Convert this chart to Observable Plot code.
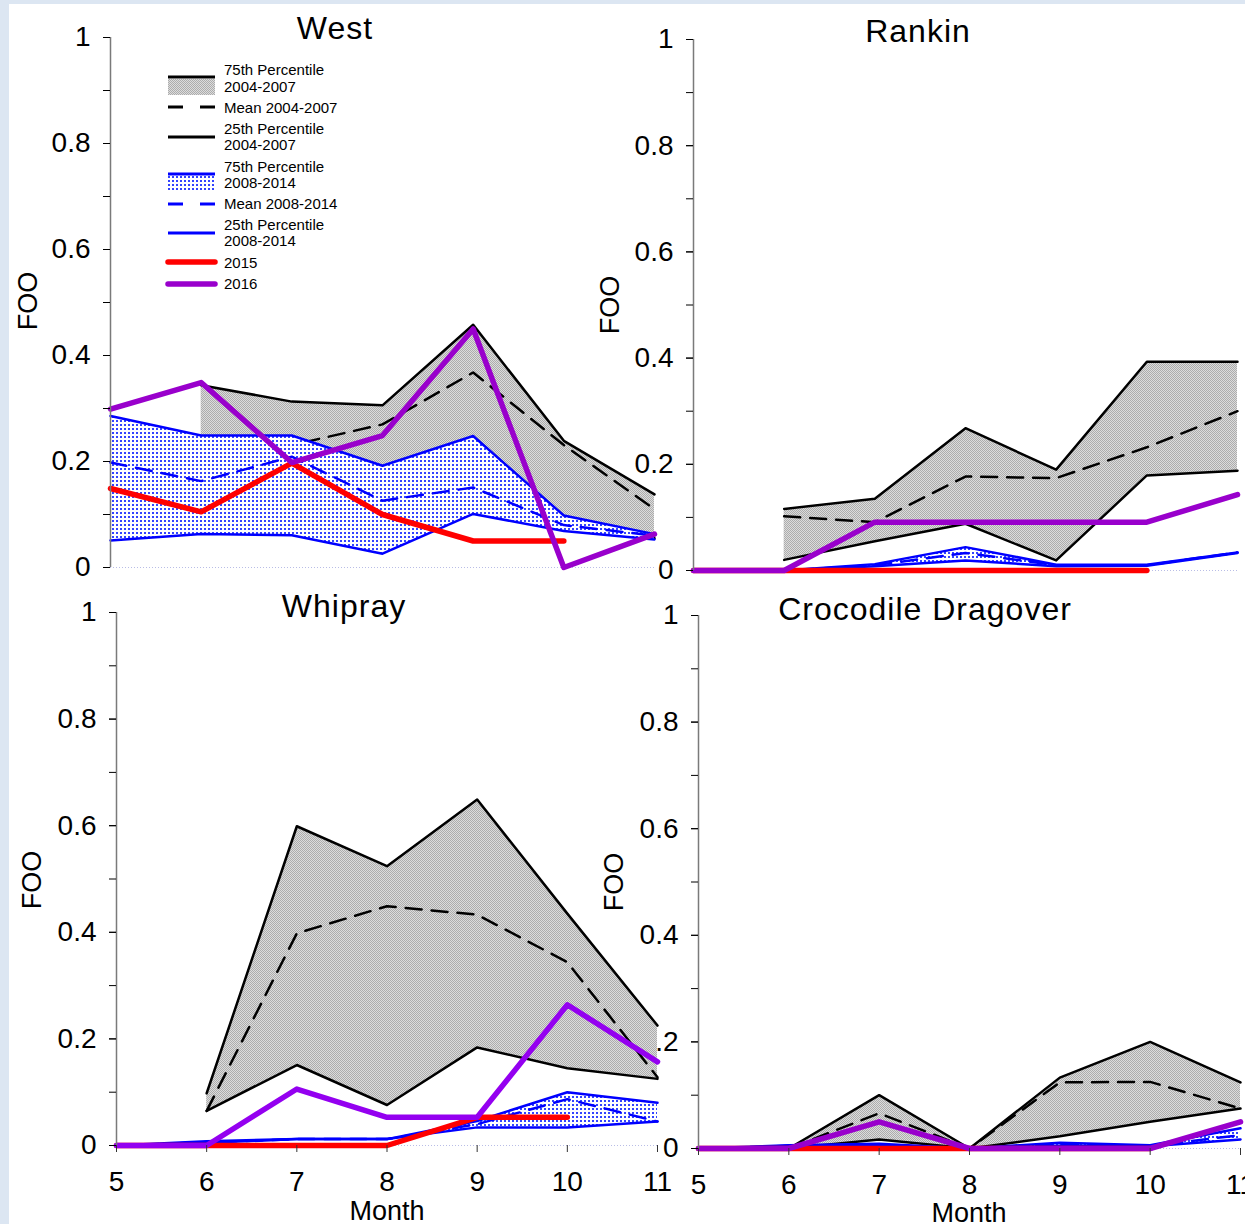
<!DOCTYPE html>
<html><head><meta charset="utf-8">
<script src="https://cdn.jsdelivr.net/npm/d3@7"></script>
<script src="https://cdn.jsdelivr.net/npm/@observablehq/plot@0.6"></script>
<style>
body{margin:0;background:#dce6f2;font-family:"Liberation Sans",Arial,sans-serif;}
#page{position:relative;width:1245px;height:1224px;overflow:hidden;}
#white{position:absolute;left:9px;top:4px;right:0;bottom:0;background:#fff;}
.panel{position:absolute;}
.lbl{position:absolute;transform:translate(-50%,-50%);white-space:nowrap;color:#000;line-height:1;}
.title{font-size:32px;letter-spacing:1px;}
.axlbl{font-size:27px;}
.rot{transform:translate(-50%,-50%) rotate(-90deg);}
</style></head><body>
<div id="page"><div id="white"></div></div>
<svg width="0" height="0" style="position:absolute"><defs>
<pattern id="grayPat" width="2" height="2" patternUnits="userSpaceOnUse"><rect width="2" height="2" fill="#dcdcdc"/><rect width="1" height="1" fill="#acacac"/><rect x="1" y="1" width="1" height="1" fill="#acacac"/></pattern>
<pattern id="bluePat" width="4" height="4" patternUnits="userSpaceOnUse"><rect width="4" height="4" fill="#fff"/><rect width="2" height="2" fill="#3344ff"/></pattern>
</defs></svg>
<script>
const months = [5, 6, 7, 8, 9, 10, 11];
const yTicksMinor = [0, 0.1, 0.2, 0.3, 0.4, 0.5, 0.6, 0.7, 0.8, 0.9, 1];
const yTicksMajor = [0, 0.2, 0.4, 0.6, 0.8, 1];
const siteNames = ["West", "Rankin", "Whipray", "Crocodile Dragover"];
const legendLabels = [["75th Percentile", "2004-2007"], ["Mean 2004-2007"], ["25th Percentile", "2004-2007"], ["75th Percentile", "2008-2014"], ["Mean 2008-2014"], ["25th Percentile", "2008-2014"], ["2015"], ["2016"]];

// West
const westP75a  = [null, 0.344, 0.313, 0.306, 0.458, 0.239, 0.138];
const westMeanA = [null, 0.200, 0.231, 0.270, 0.368, 0.231, 0.110];
const westP25a  = [null, 0.120, 0.120, 0.100, 0.150, 0.080, 0.055];
const westP75b  = [0.286, 0.249, 0.249, 0.192, 0.248, 0.098, 0.063];
const westMeanB = [0.198, 0.163, 0.209, 0.126, 0.151, 0.080, 0.060];
const westP25b  = [0.051, 0.063, 0.061, 0.026, 0.101, 0.069, 0.053];
const west2015  = [0.149, 0.105, 0.197, 0.100, 0.050, 0.050, null];
const west2016  = [0.299, 0.349, 0.198, 0.249, 0.450, 0.000, 0.063];

// Rankin
const rankinP75a  = [null, 0.116, 0.135, 0.268, 0.190, 0.393, 0.393];
const rankinMeanA = [null, 0.102, 0.091, 0.177, 0.174, 0.232, 0.300];
const rankinP25a  = [null, 0.020, 0.055, 0.088, 0.019, 0.179, 0.188];
const rankinP75b  = [0, 0, 0.012, 0.044, 0.011, 0.011, 0.034];
const rankinMeanB = [0, 0, 0.010, 0.033, 0.010, 0.010, 0.034];
const rankinP25b  = [0, 0, 0.008, 0.019, 0.008, 0.009, 0.033];
const rankin2015  = [0, 0, 0, 0, 0, 0, null];
const rankin2016  = [0, 0, 0.091, 0.091, 0.091, 0.091, 0.143];

// Whipray
const whiprayP75a  = [null, 0.098, 0.599, 0.524, 0.649, 0.435, 0.225];
const whiprayMeanA = [null, 0.065, 0.398, 0.449, 0.433, 0.344, 0.128];
const whiprayP25a  = [null, 0.065, 0.151, 0.076, 0.184, 0.145, 0.125];
const whiprayP75b  = [0, 0.008, 0.012, 0.012, 0.046, 0.100, 0.080];
const whiprayMeanB = [0, 0.006, 0.012, 0.012, 0.040, 0.087, 0.045];
const whiprayP25b  = [0, 0.005, 0.012, 0.012, 0.034, 0.034, 0.045];
const whipray2015  = [0, 0, 0, 0, 0.053, 0.053, null];
const whipray2016  = [0, 0, 0.106, 0.053, 0.053, 0.264, 0.157];

// Crocodile Dragover
const crocP75a  = [null, 0, 0.100, 0, 0.133, 0.200, 0.124];
const crocMeanA = [null, 0, 0.066, 0, 0.124, 0.125, 0.075];
const crocP25a  = [null, 0, 0.017, 0, 0.023, 0.050, 0.075];
const crocP75b  = [0, 0.006, 0.009, 0, 0.011, 0.006, 0.038];
const crocMeanB = [0, 0.005, 0.007, 0, 0.008, 0.005, 0.025];
const crocP25b  = [0, 0.004, 0.005, 0, 0.005, 0.004, 0.017];
const croc2015  = [0, 0, 0, 0, 0, 0, null];
const croc2016  = [0, 0, 0.050, 0, 0, 0, 0.050];

const page = document.getElementById("page");
const FONT = '"Liberation Sans", Arial, sans-serif';

function panel(series, geo) {
  const rows = months.map((m, i) => ({
    m, p75a: series[0][i], meana: series[1][i], p25a: series[2][i],
    p75b: series[3][i], meanb: series[4][i], p25b: series[5][i],
    y2015: series[6][i], y2016: series[7][i]
  }));
  const rowsA = rows.filter(d => d.p75a != null);
  const marks = [
    Plot.ruleY([0], {stroke: "#b9bde6", strokeDasharray: "1,2"}),
    Plot.areaY(rowsA, {x: "m", y1: "p25a", y2: "p75a", fill: "url(#grayPat)"}),
    Plot.lineY(rowsA, {x: "m", y: "p75a", stroke: "#000", strokeWidth: 2.5}),
    Plot.lineY(rowsA, {x: "m", y: "p25a", stroke: "#000", strokeWidth: 2.5}),
    Plot.lineY(rowsA, {x: "m", y: "meana", stroke: "#000", strokeWidth: 2.5, strokeDasharray: "16,10"}),
    Plot.areaY(rows, {x: "m", y1: "p25b", y2: "p75b", fill: "url(#bluePat)"}),
    Plot.lineY(rows, {x: "m", y: "p75b", stroke: "#0000ff", strokeWidth: 2.5}),
    Plot.lineY(rows, {x: "m", y: "p25b", stroke: "#0000ff", strokeWidth: 2.5}),
    Plot.lineY(rows, {x: "m", y: "meanb", stroke: "#0000ff", strokeWidth: 2.5, strokeDasharray: "16,10"}),
    Plot.lineY(rows, {x: "m", y: "y2015", stroke: "#ff0000", strokeWidth: 5.5, strokeLinecap: "round", strokeLinejoin: "round"}),
    Plot.lineY(rows, {x: "m", y: "y2016", stroke: geo.purple, strokeWidth: 5.5, strokeLinecap: "round", strokeLinejoin: "round"}),
    Plot.ruleX([5], {y1: 0, y2: 1, stroke: "#7a7a7a", strokeWidth: 1.5}),
    Plot.axisY(yTicksMinor, {tickSize: 7, tickFormat: () => "", label: null}),
    Plot.axisY(yTicksMajor, {tickSize: 7, tickPadding: 13, tickFormat: d => String(d), label: null})
  ];
  if (geo.xAxis) marks.push(Plot.axisX(months, {tickSize: 7, tickPadding: 19, tickFormat: d => String(d), label: null, stroke: "#333"}));
  const p = Plot.plot({
    width: geo.W, height: geo.H,
    marginLeft: geo.axisX - geo.L, marginRight: geo.L + geo.W - geo.xRight,
    marginTop: geo.yTop - geo.T, marginBottom: geo.T + geo.H - geo.y0,
    x: geo.xAxis ? {domain: [5, 11], label: null} : {domain: [5, 11], label: null, axis: null},
    y: {domain: [0, 1], label: null},
    style: {background: "transparent", overflow: "visible", fontFamily: FONT, fontSize: "28px", color: "#000"},
    marks
  });
  p.classList.add("panel");
  p.style.left = geo.L + "px";
  p.style.top = geo.T + "px";
  page.appendChild(p);
}

function label(text, x, y, cls) {
  const d = document.createElement("div");
  d.className = "lbl " + cls;
  d.textContent = text;
  d.style.left = x + "px";
  d.style.top = y + "px";
  page.appendChild(d);
}

// right panels first (left panels drawn on top)
panel([rankinP75a, rankinMeanA, rankinP25a, rankinP75b, rankinMeanB, rankinP25b, rankin2015, rankin2016],
  {L: 600, T: 0, W: 645, H: 580, axisX: 693, xRight: 1237, yTop: 39, y0: 570, xAxis: false, purple: "#9900cc"});
panel([crocP75a, crocMeanA, crocP25a, crocP75b, crocMeanB, crocP25b, croc2015, croc2016],
  {L: 600, T: 580, W: 645, H: 644, axisX: 698, xRight: 1240, yTop: 615, y0: 1148, xAxis: true, purple: "#9900cc"});
panel([westP75a, westMeanA, westP25a, westP75b, westMeanB, westP25b, west2015, west2016],
  {L: 0, T: 0, W: 662, H: 580, axisX: 110, xRight: 654, yTop: 37, y0: 567, xAxis: false, purple: "#9900cc"});
panel([whiprayP75a, whiprayMeanA, whiprayP25a, whiprayP75b, whiprayMeanB, whiprayP25b, whipray2015, whipray2016],
  {L: 0, T: 580, W: 665, H: 644, axisX: 116, xRight: 657, yTop: 612, y0: 1145, xAxis: true, purple: "#9400f0"});

label(siteNames[0], 335, 28, "title");
label(siteNames[1], 918, 31, "title");
label(siteNames[2], 344, 606, "title");
label(siteNames[3], 925, 609, "title");
label("FOO", 28, 301, "axlbl rot");
label("FOO", 610, 305, "axlbl rot");
label("FOO", 32, 880, "axlbl rot");
label("FOO", 614, 882, "axlbl rot");
label("Month", 387, 1211, "axlbl");
label("Month", 969, 1213, "axlbl");

// legend
const lg = d3.select(page).append("svg").attr("width", 400).attr("height", 300)
  .style("position", "absolute").style("left", "0px").style("top", "0px").style("overflow", "visible");
const lx1 = 168, lx2 = 215, tx = 224;
const items = [
  {lines: [70, 87], draw: g => { g.append("rect").attr("x", lx1).attr("y", 79).attr("width", lx2 - lx1).attr("height", 16).attr("fill", "url(#grayPat)");
                                  g.append("line").attr("x1", lx1).attr("x2", lx2).attr("y1", 77).attr("y2", 77).attr("stroke", "#000").attr("stroke-width", 3); }},
  {lines: [108], draw: g => g.append("line").attr("x1", lx1).attr("x2", lx2).attr("y1", 107).attr("y2", 107).attr("stroke", "#000").attr("stroke-width", 3).attr("stroke-dasharray", "15,17")},
  {lines: [129, 145], draw: g => g.append("line").attr("x1", lx1).attr("x2", lx2).attr("y1", 137).attr("y2", 137).attr("stroke", "#000").attr("stroke-width", 3)},
  {lines: [167, 183], draw: g => { g.append("rect").attr("x", lx1).attr("y", 175).attr("width", lx2 - lx1).attr("height", 15).attr("fill", "url(#bluePat)");
                                    g.append("line").attr("x1", lx1).attr("x2", lx2).attr("y1", 174).attr("y2", 174).attr("stroke", "#0000ff").attr("stroke-width", 3); }},
  {lines: [204], draw: g => g.append("line").attr("x1", lx1).attr("x2", lx2).attr("y1", 204).attr("y2", 204).attr("stroke", "#0000ff").attr("stroke-width", 3).attr("stroke-dasharray", "15,17")},
  {lines: [225, 241], draw: g => g.append("line").attr("x1", lx1).attr("x2", lx2).attr("y1", 233).attr("y2", 233).attr("stroke", "#0000ff").attr("stroke-width", 3)},
  {lines: [263], draw: g => g.append("line").attr("x1", lx1).attr("x2", lx2).attr("y1", 262).attr("y2", 262).attr("stroke", "#ff0000").attr("stroke-width", 5.5).attr("stroke-linecap", "round")},
  {lines: [284], draw: g => g.append("line").attr("x1", lx1).attr("x2", lx2).attr("y1", 284).attr("y2", 284).attr("stroke", "#9900cc").attr("stroke-width", 5.5).attr("stroke-linecap", "round")}
];
items.forEach((it, i) => {
  const g = lg.append("g");
  it.draw(g);
  legendLabels[i].forEach((t, j) => {
    g.append("text").attr("x", tx).attr("y", it.lines[j]).attr("dy", "0.35em")
      .attr("font-family", FONT).attr("font-size", 15).attr("fill", "#000").text(t);
  });
});
</script>
</body></html>
